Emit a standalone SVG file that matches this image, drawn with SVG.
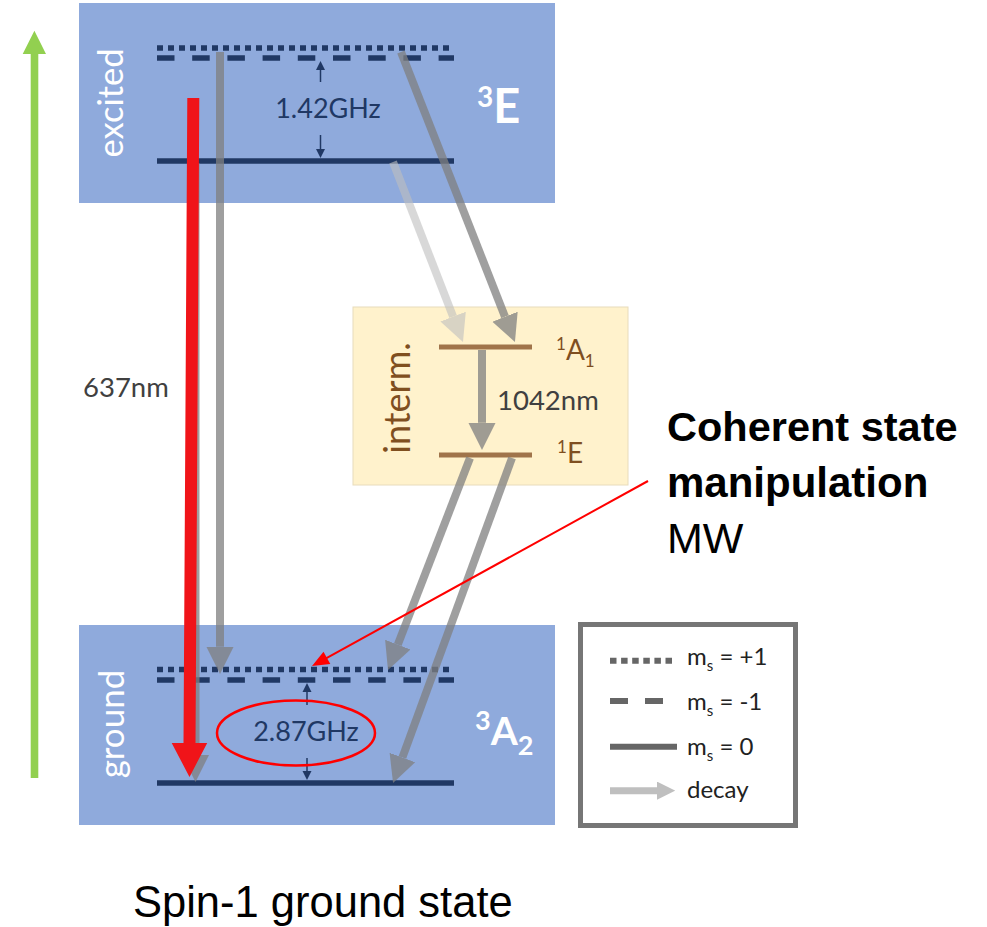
<svg xmlns="http://www.w3.org/2000/svg" width="987" height="927" viewBox="0 0 987 927">
<style>
.box{fill:#8faadc}
.lvl{stroke:#203864;stroke-width:5.5;fill:none}
.dot{stroke-dasharray:6 5}
.dash{stroke-dasharray:17.5 17.7}
.ilvl{stroke:#a0744a;stroke-width:5;fill:none}
.small{stroke:#203864;stroke-width:1.5;fill:none}
.smallh{fill:#203864}
.lato{font-family:Lato,"Noto Sans","Liberation Sans",sans-serif}
.wt{fill:#ffffff}
.gz{font-size:27px;fill:#203864}
.nm{font-size:27.5px;fill:#404040}
.br{fill:#7f4f1f}
.leg{font-size:24px;fill:#222222}
.cal{font-family:"Liberation Sans",Arial,sans-serif;fill:#000000}
.ga{stroke:#808080;stroke-width:8;fill:none;marker-end:url(#ahg)}
.la{stroke:#bfbfbf;stroke-width:8;fill:none;marker-end:url(#ahl)}
</style>
<defs>
<marker id="ahg" viewBox="0 0 10 10" refX="0" refY="5" markerWidth="3.4" markerHeight="3.7" orient="auto" markerUnits="strokeWidth"><path d="M0,0L10,5L0,10z" fill="#808080"/></marker>
<marker id="ahl" viewBox="0 0 10 10" refX="0" refY="5" markerWidth="3.4" markerHeight="3.7" orient="auto" markerUnits="strokeWidth"><path d="M0,0L10,5L0,10z" fill="#bfbfbf"/></marker>
<marker id="ahleg" viewBox="0 0 10 10" refX="0" refY="5" markerWidth="2.6" markerHeight="2.6" orient="auto" markerUnits="strokeWidth"><path d="M0,0L10,5L0,10z" fill="#bfbfbf"/></marker>
</defs>

<g id="pump">
<polygon points="30.7,778 38.3,778 38.3,54 46,54 34.4,30.7 22.7,54 30.7,54" fill="#92d050"/>
</g>

<g id="excited">
<rect class="box" x="79" y="3" width="476" height="200"/>
<line class="lvl dot" x1="157" y1="48" x2="454" y2="48"/>
<line class="lvl dash" x1="157" y1="58" x2="454" y2="58"/>
<line class="lvl" x1="157" y1="161" x2="454" y2="161"/>
<line class="small" x1="320.5" y1="82" x2="320.5" y2="69"/>
<polygon class="smallh" points="320.5,61 316,70 325,70"/>
<line class="small" x1="320.5" y1="135" x2="320.5" y2="150"/>
<polygon class="smallh" points="320.5,158 316,149 325,149"/>
<text class="lato gz" x="328" y="118" text-anchor="middle">1.42GHz</text>
<text class="lato wt" font-size="34.5" text-anchor="middle" transform="translate(123,103) rotate(-90)">excited</text>
<text class="lato wt" x="477" y="123" font-weight="bold"><tspan font-size="28" dy="-16">3</tspan><tspan font-size="47" dy="16">E</tspan></text>
</g>

<g id="ground">
<rect class="box" x="79" y="625" width="476" height="200"/>
<line class="lvl dot" x1="157" y1="669.5" x2="454" y2="669.5"/>
<line class="lvl dash" x1="157" y1="680" x2="454" y2="680"/>
<line class="lvl" x1="157" y1="783" x2="454" y2="783"/>
<line class="small" x1="307" y1="705" x2="307" y2="691"/>
<polygon class="smallh" points="307,683 302.5,692 311.5,692"/>
<line class="small" x1="307" y1="758" x2="307" y2="772"/>
<polygon class="smallh" points="307,780 302.5,771 311.5,771"/>
<text class="lato gz" x="306" y="741" text-anchor="middle">2.87GHz</text>
<text class="lato wt" font-size="35" text-anchor="middle" transform="translate(124,724) rotate(-90)">ground</text>
<text class="lato wt" x="475" y="745" font-weight="bold"><tspan font-size="27" dy="-15">3</tspan><tspan font-size="39" dy="15">A</tspan><tspan font-size="27" dy="10">2</tspan></text>
</g>

<g id="intermediate">
<rect x="353" y="307" width="275" height="178" fill="#fff2cc" stroke="#e8dcbc" stroke-width="1"/>
<line class="ilvl" x1="439" y1="347" x2="532" y2="347"/>
<line class="ilvl" x1="439" y1="455" x2="532" y2="455"/>
<text class="lato br" font-size="36" text-anchor="middle" transform="translate(410,398) rotate(-90)">interm.</text>
<text class="lato br" x="556" y="360"><tspan font-size="17" dy="-10">1</tspan><tspan font-size="28" dy="10">A</tspan><tspan font-size="17" dy="7">1</tspan></text>
<text class="lato br" x="557" y="463"><tspan font-size="17" dy="-10">1</tspan><tspan font-size="28" dy="10">E</tspan></text>
</g>

<g id="connectors">
<g opacity="0.75"><line class="ga" x1="195.5" y1="163" x2="195.5" y2="754.8"/></g>
<g opacity="0.75"><line class="ga" x1="220" y1="52" x2="220" y2="646.8"/></g>
<g opacity="0.75"><line class="ga" x1="401" y1="52" x2="505" y2="316.7"/></g>
<g opacity="0.6"><line class="la" x1="393" y1="162" x2="453.1" y2="316.6"/></g>
<g opacity="0.75"><line class="ga" x1="482" y1="350" x2="482" y2="422.8"/></g>
<g opacity="0.75"><line class="ga" x1="470" y1="458" x2="397.8" y2="644.6"/></g>
<g opacity="0.75"><line class="ga" x1="512" y1="458" x2="402.4" y2="757.5"/></g>
<polygon points="187.3,98 199.3,98 195.5,743 207.2,743 189.5,777 171.7,743 183.5,743" fill="#f01419"/>
<line x1="648" y1="481" x2="326" y2="658.3" stroke="#ff0000" stroke-width="2"/>
<polygon points="312,666 330.3,663.9 323.5,651.7" fill="#ff0000"/>
<ellipse cx="296" cy="733" rx="79" ry="32.5" fill="none" stroke="#ff0000" stroke-width="2.5"/>
</g>

<g id="wavelengths">
<text class="lato nm" x="83" y="397">637nm</text>
<text class="lato nm" x="497" y="410">1042nm</text>
</g>

<g id="legend">
<rect x="580.5" y="624.5" width="215" height="201" fill="#ffffff" stroke="#767676" stroke-width="5"/>
<line x1="610" y1="660.7" x2="673" y2="660.7" stroke="#666666" stroke-width="6" stroke-dasharray="6.5 4.6"/>
<line x1="610" y1="701" x2="663" y2="701" stroke="#666666" stroke-width="6" stroke-dasharray="18 17"/>
<line x1="610" y1="746.7" x2="677" y2="746.7" stroke="#666666" stroke-width="6"/>
<line x1="610" y1="790.7" x2="657" y2="790.7" stroke="#bfbfbf" stroke-width="7" marker-end="url(#ahleg)"/>
<text class="lato leg" x="687" y="665">m<tspan font-size="15" dy="6">s</tspan><tspan dy="-6"> = +1</tspan></text>
<text class="lato leg" x="687" y="710">m<tspan font-size="15" dy="6">s</tspan><tspan dy="-6"> = -1</tspan></text>
<text class="lato leg" x="687" y="755">m<tspan font-size="15" dy="6">s</tspan><tspan dy="-6"> = 0</tspan></text>
<text class="lato leg" x="687" y="798">decay</text>
</g>

<g id="annotation">
<text class="cal" x="667" y="441" font-size="41.5" font-weight="bold">Coherent state</text>
<text class="cal" x="667" y="497" font-size="42" font-weight="bold">manipulation</text>
<text class="cal" x="667" y="553" font-size="43">MW</text>
</g>

<g id="caption">
<text class="cal" x="133" y="917" font-size="43.5">Spin-1 ground state</text>
</g>
</svg>
